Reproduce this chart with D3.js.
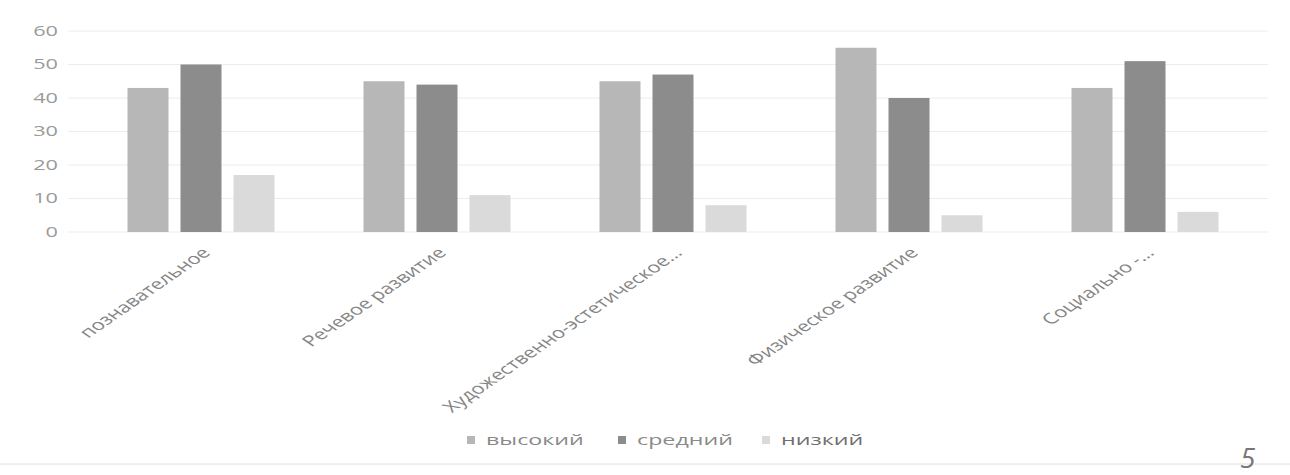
<!DOCTYPE html>
<html>
  <head>
    <meta charset="utf-8" />
    <script src="https://d3js.org/d3.v7.min.js"></script>
    <style>
      body { margin: 0; background: #fff; }
      text { font-family: "Open Sans", sans-serif; }
      .grid line { stroke: #ececec; stroke-width: 1px; }
    </style>
  </head>
  <body>
    <svg id="chart" width="1290" height="475"></svg>
    <script>

      var categories = [
        "познавательное",
        "Речевое развитие",
        "Художественно-эстетическое...",
        "Физическое развитие",
        "Социально -..."
      ];
      var seriesNames = ["высокий", "средний", "низкий"];
      var vysokiy = [43, 45, 45, 55, 43];
      var sredniy = [50, 44, 47, 40, 51];
      var nizkiy = [17, 11, 8, 5, 6];
      var yTicks = [0, 10, 20, 30, 40, 50, 60];

      var colors = ["#b7b7b7", "#8c8c8c", "#dadada"];
      // the scan is stretched sideways, so text gets widened too
      var stretch = 1.55;
      var labelStretch = 1.45;

      var svg = d3.select("#chart");

      var x0 = d3.scaleBand()
        .domain(categories)
        .range([83, 1263])
        .paddingInner(0.377)
        .paddingOuter(0.1885);

      var x1 = d3.scaleBand()
        .domain(seriesNames)
        .range([0, x0.bandwidth()])
        .paddingInner(12 / 53);

      var y = d3.scaleLinear()
        .domain([0, 60])
        .range([232, 31]);

      // gridlines
      svg.append("g")
        .attr("class", "grid")
        .selectAll("line")
        .data(yTicks)
        .enter().append("line")
        .attr("x1", 68)
        .attr("x2", 1268)
        .attr("y1", function(d) { return y(d); })
        .attr("y2", function(d) { return y(d); });

      // y labels
      svg.append("g")
        .selectAll("text")
        .data(yTicks)
        .enter().append("text")
        .attr("transform", function(d) {
          return "translate(58," + y(d) + ") scale(" + stretch + ",1)";
        })
        .attr("text-anchor", "end")
        .attr("dy", "0.35em")
        .attr("font-size", 14)
        .attr("fill", "#9a9a9a")
        .text(function(d) { return d; });

      var rows = categories.map(function(c, i) {
        return { cat: c, values: [vysokiy[i], sredniy[i], nizkiy[i]] };
      });

      var groups = svg.append("g")
        .selectAll("g")
        .data(rows)
        .enter().append("g")
        .attr("transform", function(d) { return "translate(" + x0(d.cat) + ",0)"; });

      groups.selectAll("rect")
        .data(function(d) {
          return d.values.map(function(v, j) { return { key: seriesNames[j], value: v, j: j }; });
        })
        .enter().append("rect")
        .attr("x", function(d) { return x1(d.key); })
        .attr("y", function(d) { return y(d.value); })
        .attr("width", x1.bandwidth())
        .attr("height", function(d) { return y(0) - y(d.value); })
        .attr("fill", function(d) { return colors[d.j]; });

      // category labels
      svg.append("g")
        .selectAll("text")
        .data(categories)
        .enter().append("text")
        .attr("transform", function(d) {
          var cx = x0(d) + x0.bandwidth() / 2 + 5;
          return "translate(" + cx + ",250) scale(" + labelStretch + ",1) rotate(-45)";
        })
        .attr("text-anchor", "end")
        .attr("dy", "0.35em")
        .attr("font-size", 15)
        .attr("fill", "#858585")
        .text(function(d) { return d; });

      // legend
      var legendX = [467, 618, 762];
      var legend = svg.append("g")
        .selectAll("g")
        .data(seriesNames)
        .enter().append("g")
        .attr("transform", function(d, i) { return "translate(" + legendX[i] + ",440)"; });

      legend.append("rect")
        .attr("x", 0)
        .attr("y", -4)
        .attr("width", 8)
        .attr("height", 8)
        .attr("fill", function(d, i) { return colors[i]; });

      legend.append("text")
        .attr("transform", "translate(19,0) scale(" + stretch + ",1)")
        .attr("dy", "0.35em")
        .attr("font-size", 15)
        .attr("fill", function(d, i) { return i === 2 ? "#6f6f6f" : "#8a8a8a"; })
        .text(function(d) { return d; });

      // bottom frame line and handwritten page mark
      svg.append("line")
        .attr("x1", 0)
        .attr("x2", 1290)
        .attr("y1", 464)
        .attr("y2", 464)
        .attr("stroke", "#dedede");

      svg.append("text")
        .attr("x", 1240)
        .attr("y", 468)
        .attr("font-size", 28)
        .attr("font-style", "italic")
        .attr("fill", "#777")
        .text("5");

    </script>
  </body>
</html>
